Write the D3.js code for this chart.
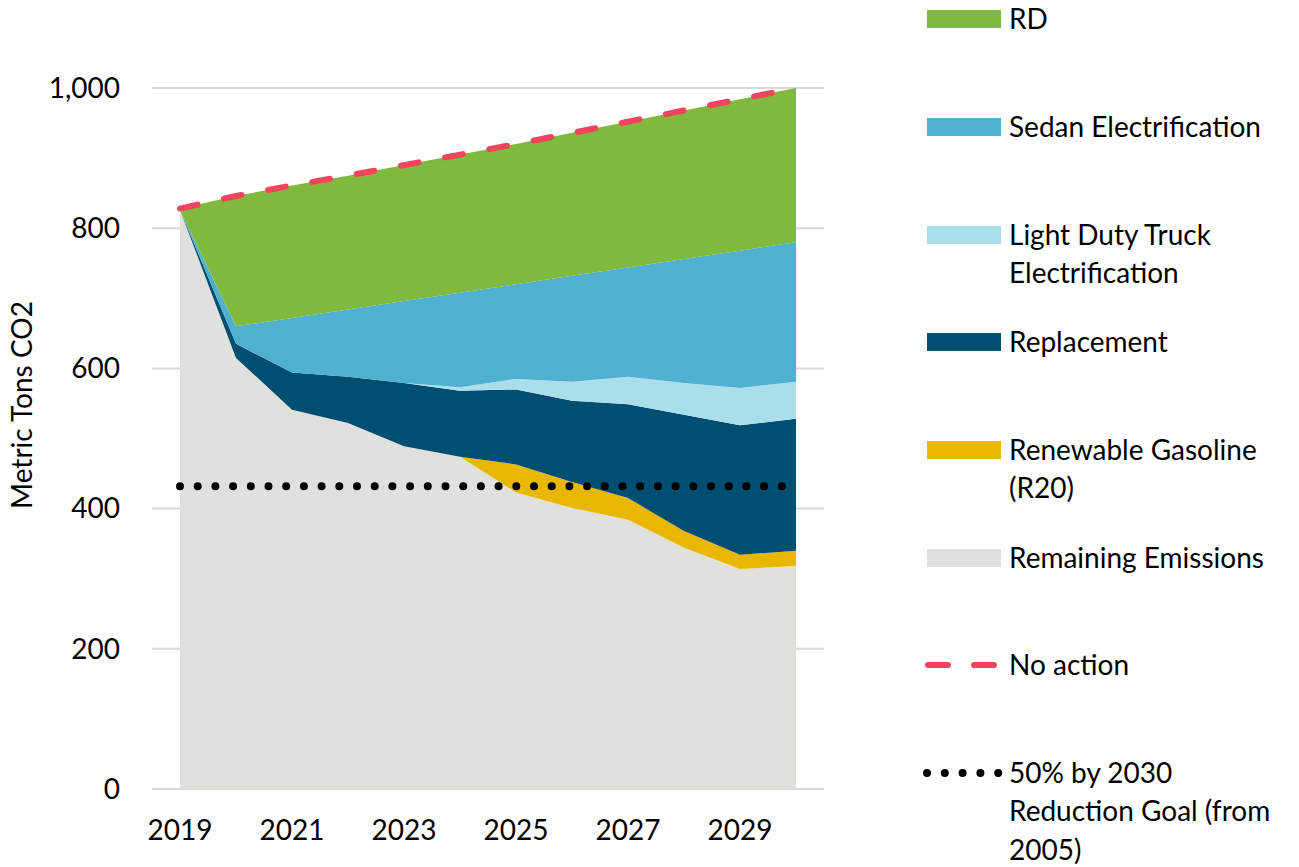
<!DOCTYPE html>
<html>
<head>
<meta charset="utf-8">
<script src="https://cdn.jsdelivr.net/npm/d3@7"></script>
<style>
  body { margin: 0; background: #fff; }
  text { font-family: Lato, "Open Sans", sans-serif; fill: #000; }
</style>
</head>
<body>
<div id="chart"></div>
<script>
// years on the x axis
let years = [2019, 2020, 2021, 2022, 2023, 2024, 2025, 2026, 2027, 2028, 2029, 2030];
let xTickLabels = ['2019', '2021', '2023', '2025', '2027', '2029'];
let yTickValues = [0, 200, 400, 600, 800, 1000];

// stacked series, bottom to top
let remaining   = [826, 615, 541, 522, 489, 474, 423, 401, 384, 344, 314, 318];
let renewable   = [0, 0, 0, 0, 0, 0, 40, 37, 31, 24, 20, 22];
let replacement = [0, 20, 53, 66, 90, 94, 107, 116, 134, 166, 185, 188];
let lightTruck  = [0, 0, 0, 0, 0, 5, 15, 27, 39, 45, 53, 53];
let sedan       = [0, 25, 78, 96, 117, 135, 135, 151, 156, 177, 196, 199];
let rd          = [2, 186, 189, 191, 194, 197, 200, 204, 208, 212, 216, 220];

// lines
let noAction = [828, 846, 861, 875, 890, 905, 920, 936, 952, 968, 984, 1000];
let goal = [432, 432, 432, 432, 432, 432, 432, 432, 432, 432, 432, 432];

let keys = ['remaining', 'renewable', 'replacement', 'lightTruck', 'sedan', 'rd'];
let colors = {
  remaining: '#E0E1DC',
  renewable: '#EAB700',
  replacement: '#004E71',
  lightTruck: '#ABDEEB',
  sedan: '#4FB0D0',
  rd: '#7FB93E'
};

let rows = years.map((yr, i) => ({
  year: yr,
  remaining: remaining[i],
  renewable: renewable[i],
  replacement: replacement[i],
  lightTruck: lightTruck[i],
  sedan: sedan[i],
  rd: rd[i]
}));

let width = 1299;
let height = 867;
let fontSize = '28px';

let svg = d3.select('#chart')
  .append('svg')
  .attr('width', width)
  .attr('height', height);

// plot area spans half a year either side
let x = d3.scaleLinear()
  .domain([2018.5, 2030.5])
  .range([152, 824]);

let y = d3.scaleLinear()
  .domain([0, 1000])
  .range([789, 88]);

// gridlines
svg.append('g')
  .selectAll('line')
  .data(yTickValues)
  .enter()
  .append('line')
  .attr('x1', x(2018.5))
  .attr('x2', x(2030.5))
  .attr('y1', d => y(d))
  .attr('y2', d => y(d))
  .attr('stroke', '#D9D9D9')
  .attr('stroke-width', 2);

// stacked areas
let series = d3.stack().keys(keys)(rows);

let area = d3.area()
  .x(d => x(d.data.year))
  .y0(d => y(d[0]))
  .y1(d => y(d[1]));

svg.append('g')
  .selectAll('path')
  .data(series)
  .enter()
  .append('path')
  .attr('d', area)
  .attr('fill', d => colors[d.key]);

let line = d3.line()
  .x((d, i) => x(years[i]))
  .y(d => y(d));

// goal (dotted)
svg.append('path')
  .attr('d', line(goal))
  .attr('fill', 'none')
  .attr('stroke', '#000')
  .attr('stroke-width', 8)
  .attr('stroke-linecap', 'round')
  .attr('stroke-dasharray', '0,17.7');

// no action (dashed)
svg.append('path')
  .attr('d', line(noAction))
  .attr('fill', 'none')
  .attr('stroke', '#F2445C')
  .attr('stroke-width', 6)
  .attr('stroke-linecap', 'round')
  .attr('stroke-dasharray', '18,27');

// y axis labels
let fmt = d3.format(',');
svg.append('g')
  .selectAll('text')
  .data(yTickValues)
  .enter()
  .append('text')
  .attr('x', 120)
  .attr('y', d => y(d))
  .attr('dy', '0.35em')
  .attr('text-anchor', 'end')
  .style('font-size', fontSize)
  .text(d => fmt(d));

// x axis labels
svg.append('g')
  .selectAll('text')
  .data(xTickLabels)
  .enter()
  .append('text')
  .attr('x', d => x(+d))
  .attr('y', 830)
  .attr('dy', '0.35em')
  .attr('text-anchor', 'middle')
  .style('font-size', fontSize)
  .text(d => d);

// y axis title
svg.append('text')
  .attr('transform', 'translate(22,405) rotate(-90)')
  .attr('dy', '0.35em')
  .attr('text-anchor', 'middle')
  .style('font-size', fontSize)
  .text('Metric Tons CO2');

// legend
let legendItems = [
  { type: 'box', color: colors.rd, cy: 19, lines: ['RD'] },
  { type: 'box', color: colors.sedan, cy: 127, lines: ['Sedan Electrification'] },
  { type: 'box', color: colors.lightTruck, cy: 235, lines: ['Light Duty Truck', 'Electrification'] },
  { type: 'box', color: colors.replacement, cy: 342, lines: ['Replacement'] },
  { type: 'box', color: colors.renewable, cy: 450, lines: ['Renewable Gasoline', '(R20)'] },
  { type: 'box', color: colors.remaining, cy: 558, lines: ['Remaining Emissions'] },
  { type: 'dash', color: '#F2445C', cy: 665, lines: ['No action'] },
  { type: 'dot', color: '#000', cy: 773, lines: ['50% by 2030', 'Reduction Goal (from', '2005)'] }
];

let legend = svg.append('g');

legendItems.forEach(item => {
  if (item.type == 'box') {
    legend.append('rect')
      .attr('x', 927)
      .attr('y', item.cy - 9)
      .attr('width', 74)
      .attr('height', 18)
      .attr('fill', item.color);
  } else if (item.type == 'dash') {
    legend.append('line')
      .attr('x1', 928).attr('x2', 996)
      .attr('y1', item.cy).attr('y2', item.cy)
      .attr('stroke', item.color)
      .attr('stroke-width', 6)
      .attr('stroke-linecap', 'round')
      .attr('stroke-dasharray', '20,26');
  } else {
    legend.append('line')
      .attr('x1', 927).attr('x2', 1001)
      .attr('y1', item.cy).attr('y2', item.cy)
      .attr('stroke', item.color)
      .attr('stroke-width', 8)
      .attr('stroke-linecap', 'round')
      .attr('stroke-dasharray', '0,17.8');
  }
  item.lines.forEach((t, j) => {
    legend.append('text')
      .attr('x', 1009)
      .attr('y', item.cy + j * 38.5)
      .attr('dy', '0.35em')
      .style('font-size', fontSize)
      .text(t);
  });
});
</script>
</body>
</html>
